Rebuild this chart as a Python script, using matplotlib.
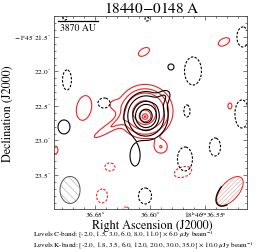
import numpy as np
import matplotlib
matplotlib.use("Agg")
import matplotlib.pyplot as plt
from matplotlib.patches import Polygon
from matplotlib.ticker import FixedLocator, MultipleLocator

plt.rcParams["font.family"] = "STIXGeneral"
plt.rcParams["mathtext.fontset"] = "stix"
plt.rcParams["hatch.linewidth"] = 0.5

# ---- data -----------------------------------------------------------------
# RA in seconds of 18h46m, Dec in arcsec of -1d45m; amplitudes in rms units
c_rms = 6.0
c_levels = [-2.0, 1.5, 3.0, 6.0, 8.0, 11.0]
c_ra = [36.6036, 36.5873, 36.5809, 36.6136, 36.6782,
        36.6755, 36.6418, 36.6027, 36.5609, 36.5155, 36.5664, 36.5164,
        36.5682, 36.5409, 36.6045, 36.6773]
c_dec = [22.645, 22.370, 21.935, 23.225, 22.804,
         22.123, 22.457, 21.239, 21.993, 21.500, 22.572, 22.616,
         23.268, 23.094, 23.804, 21.225]
c_amp = [13.0, 2.5, 2.9, 2.9, 2.9,
         -6, -6, -6, -6, -6, -6, -6, -6, -6, -6, -6]
c_sa = [0.145, 0.09, 0.036, 0.059, 0.071,
        0.041, 0.055, 0.018, 0.078, 0.055, 0.028, 0.064, 0.069, 0.051, 0.060, 0.018]
c_sb = [0.170, 0.06, 0.038, 0.126, 0.088,
        0.098, 0.049, 0.020, 0.137, 0.098, 0.059, 0.137, 0.117, 0.088, 0.078, 0.020]
c_pa = [0, 55, 0, 0, 0, 0, 0, 0, 0, 0, 0, 0, 0, 0, 0, 0]

k_rms = 10.0
k_levels = [-2.0, 1.8, 3.5, 6.0, 12.0, 20.0, 30.0, 35.0]
k_ra = [36.6045, 36.6045, 36.6355, 36.6336, 36.6600, 36.6055, 36.5327,
        36.5273, 36.5900, 36.6864, 36.6364, 36.6436, 36.6218, 36.5700]
k_dec = [22.659, 22.580, 22.800, 22.480, 22.529, 21.717, 21.572,
         22.500, 23.095, 23.138, 23.384, 23.804, 24.007, 23.457]
k_amp = [20.0, 17.0, 3.2, 1.6, 3.4, 3.4, 3.4, 3.4, 3.4, 3.4, -6, -6, -6, -6]
k_sa = [0.05, 0.18, 0.25, 0.07, 0.16, 0.075, 0.075, 0.024, 0.073, 0.036,
        0.046, 0.051, 0.028, 0.083]
k_sb = [0.05, 0.185, 0.05, 0.07, 0.09, 0.044, 0.044, 0.038, 0.077, 0.051,
        0.039, 0.068, 0.029, 0.049]
k_pa = [0, 0, 34, 0, 80, 35, 30, 0, 0, 0, 0, 0, 0, 20]

# beams: centre RA, Dec, major ("), minor ("), PA (deg on the image)
c_beam = (36.6727, 23.717, 0.391, 0.273, 90)
k_beam = (36.5273, 23.732, 0.495, 0.250, 52)
scale_ra = (36.6836, 36.6473)
scale_dec = 21.268
scale_label = "3870 AU"

DEC0 = np.deg2rad(-1.75)


def model(ra, dec, amp, sa, sb, pa, RA, DEC):
    out = np.zeros_like(RA)
    for r0, d0, a, s1, s2, p in zip(ra, dec, amp, sa, sb, pa):
        dx = -(RA - r0) * 15 * np.cos(DEC0)
        dy = -(DEC - d0)
        t = np.deg2rad(p)
        u = dx * np.cos(t) + dy * np.sin(t)
        v = -dx * np.sin(t) + dy * np.cos(t)
        out += a * np.exp(-0.5 * ((u / s1) ** 2 + (v / s2) ** 2))
    return out


def beam_xy(ra0, dec0, bmaj, bmin, pa, t0=0, t1=360, scale=1.0):
    t = np.deg2rad(np.linspace(t0, t1, 120))
    p = np.deg2rad(pa)
    u, v = scale * bmaj / 2 * np.cos(t), scale * bmin / 2 * np.sin(t)
    dx = u * np.cos(p) - v * np.sin(p)
    dy = u * np.sin(p) + v * np.cos(p)
    return np.column_stack([ra0 - dx / 15 / np.cos(DEC0), dec0 - dy])


ra_g = np.linspace(36.505, 36.695, 500)
dec_g = np.linspace(21.15, 24.05, 500)
RA, DEC = np.meshgrid(ra_g, dec_g)
cmap = model(c_ra, c_dec, c_amp, c_sa, c_sb, c_pa, RA, DEC) * c_rms
kmap = model(k_ra, k_dec, k_amp, k_sa, k_sb, k_pa, RA, DEC) * k_rms

fig = plt.figure(figsize=(2.64, 2.52), dpi=100)
ax = fig.add_axes([0.2045, 0.1706, 0.731, 0.766])

dash = (0, (2.2, 1.4))
ax.contour(RA, DEC, kmap, levels=np.array(k_levels) * k_rms, colors="#ee2222",
           linewidths=0.8, linestyles=[dash if l < 0 else "solid" for l in k_levels])
ax.contour(RA, DEC, cmap, levels=np.array(c_levels) * c_rms, colors="black",
           linewidths=0.8, linestyles=[dash if l < 0 else "solid" for l in c_levels])

# beams
xy = beam_xy(*c_beam)
ax.add_patch(Polygon(xy, closed=True, fill=False, hatch="\\\\\\\\", edgecolor="#b5b5b5", lw=0))
ax.add_patch(Polygon(xy, closed=True, fill=False, edgecolor="#555555", lw=0.7))
xy = beam_xy(*k_beam)
ax.add_patch(Polygon(xy, closed=True, fill=False, hatch="////////", edgecolor="#f4a6a6", lw=0))
ax.add_patch(Polygon(xy, closed=True, fill=False, edgecolor="#ee2222", lw=0.7))
arc = beam_xy(*k_beam, t0=95, t1=225, scale=1.05)
ax.plot(arc[:, 0], arc[:, 1], color="black", lw=0.9)

# scale bar
ax.plot(scale_ra, [scale_dec, scale_dec], color="black", lw=0.9)
ax.text(np.mean(scale_ra), scale_dec + 0.03, scale_label, ha="center", va="top", fontsize=7)

ax.set_xlim(36.6873, 36.5118)
ax.set_ylim(23.993, 21.196)

ax.xaxis.set_major_locator(FixedLocator([36.65, 36.60, 36.55]))
ax.set_xticklabels([r"$36.65^{\rm s}$", r"$36.60^{\rm s}$",
                    r"$18^{\rm h}46^{\rm m}36.55^{\rm s}$"])
ax.xaxis.set_minor_locator(MultipleLocator(0.01))
ax.yaxis.set_major_locator(FixedLocator([21.5, 22.0, 22.5, 23.0, 23.5]))
ax.set_yticklabels([r"$-1^{\circ}45^{\prime}21.5^{\prime\prime}$", r"$22.0^{\prime\prime}$",
                    r"$22.5^{\prime\prime}$", r"$23.0^{\prime\prime}$", r"$23.5^{\prime\prime}$"])
ax.yaxis.set_minor_locator(MultipleLocator(0.1))
ax.tick_params(which="both", direction="in", top=True, right=True, width=0.5,
               labelsize=5.3, color="#444444")
ax.tick_params(axis="x", pad=1.0)
ax.tick_params(axis="y", pad=1.5)
ax.tick_params(which="major", length=3)
ax.tick_params(which="minor", length=1.5)
for s in ax.spines.values():
    s.set_linewidth(0.6)
    s.set_color("#444444")

fig.text(0.576, 0.968, "18440$-$0148 A", ha="center", va="center", fontsize=11)
fig.text(0.578, 0.104, "Right Ascension (J2000)", ha="center", va="center", fontsize=8.7)
fig.text(0.03, 0.55, "Declination (J2000)", ha="center", va="center", rotation=90, fontsize=8.7)


def lev_text(name, levels, rms):
    vals = ", ".join(f"{l:.1f}" for l in levels)
    return f"Levels {name}: [{vals}] $\\times$ {rms:.1f} $\\mu$Jy beam$^{{-1}}$"


fig.text(0.125, 0.064, lev_text("C-band", c_levels, c_rms), ha="left", va="center", fontsize=5.1)
fig.text(0.125, 0.022, lev_text("K-band", k_levels, k_rms), ha="left", va="center", fontsize=5.1)

fig.savefig("out.png", dpi=100)
